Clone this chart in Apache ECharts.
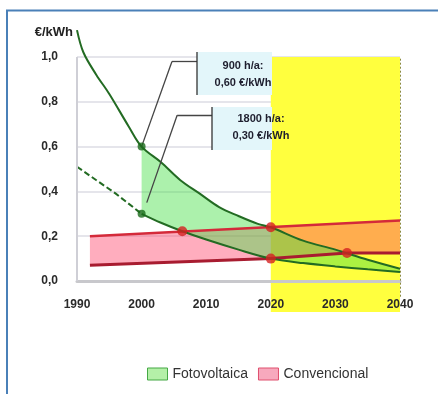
<!DOCTYPE html>
<html><head><meta charset="utf-8">
<script src="https://cdn.jsdelivr.net/npm/echarts@6/dist/echarts.min.js"></script>
<style>html,body{margin:0;padding:0;background:#fff}#c{width:438px;height:394px}</style>
</head><body><div id="c"></div>
<script>
// ---- data ----
const pv900Years = [1990, 1991, 1993, 1995, 1998, 2000, 2003, 2006, 2009, 2012, 2015, 2018, 2020, 2025, 2030, 2035, 2040];
const pv900 =      [1.12, 1.02, 0.92, 0.835, 0.69, 0.60, 0.53, 0.45, 0.39, 0.33, 0.29, 0.255, 0.24, 0.18, 0.14, 0.095, 0.055];
const pv1800Years = [1990, 1993, 1996, 2000, 2003, 2006.3, 2010, 2015, 2020, 2025, 2030, 2035, 2040];
const pv1800 =      [0.51, 0.45, 0.39, 0.30, 0.26, 0.222, 0.185, 0.14, 0.10, 0.08, 0.065, 0.052, 0.04];
const convHighYears = [1992, 2040];
const convHigh = [0.20, 0.27];
const convLowYears = [1992, 2020, 2031.8, 2040];
const convLow = [0.07, 0.10, 0.125, 0.125];
const pvMarkYears = [2000, 2000];
const pvMarks = [0.60, 0.30];
const crossYears = [2006.3, 2020, 2020, 2031.8];
const crossValues = [0.222, 0.24, 0.10, 0.125];
const xTicks = [1990, 2000, 2010, 2020, 2030, 2040];
const yTicks = [0, 0.2, 0.4, 0.6, 0.8, 1.0];
const horizonYears = [2020, 2040];
const seriesNames = ['Fotovoltaica', 'Convencional'];
const yUnit = '€/kWh';
const notes = ['900 h/a:\n0,60 €/kWh', '1800 h/a:\n0,30 €/kWh'];
// annotation leader anchors (data space)
const leaders = [
  [[2000, 0.60], [2004.7, 0.98], [2008.6, 0.98]],
  [[2000.8, 0.35], [2005.5, 0.74], [2011.1, 0.74]]
];

// ---- helpers ----
const pairs = (xs, ys) => xs.map((x, i) => [x, ys[i]]);
const pvTop = pairs(pv900Years, pv900).filter(p => p[0] >= 2000);
const pvBot = pairs(pv1800Years, pv1800).filter(p => p[0] >= 2000);
const pvPoly = pvTop.concat(pvBot.slice().reverse());
const convPoly = pairs(convHighYears, convHigh).concat(pairs(convLowYears, convLow).reverse());
const xMin = xTicks[0], xMax = xTicks[xTicks.length - 1];
const yMax = yTicks[yTicks.length - 1];

const FONT = 'Liberation Sans';
const chart = echarts.init(document.getElementById('c'), null, {renderer: 'canvas'});

function polySeries(name, poly, fill) {
  return {
    type: 'custom', name: name, coordinateSystem: 'cartesian2d', silent: true, z: 1,
    data: [[poly[0][0], poly[0][1]]],
    itemStyle: {color: fill},
    renderItem: (params, api) => ({
      type: 'polygon',
      shape: {points: poly.map(p => api.coord(p))},
      style: {fill: fill}
    })
  };
}

const leaderData = [];
leaders.forEach(l => {
  for (let i = 0; i < l.length - 1; i++) leaderData.push([{coord: l[i]}, {coord: l[i + 1]}]);
});
leaderData.push([{coord: [xMin, 0], lineStyle: {color: '#cfcfd6', width: 2}}, {coord: [xMin, yMax]}]);

const option = {
  animation: false,
  textStyle: {fontFamily: FONT},
  grid: [
    {left: 77, right: 38, top: 57, bottom: 113, containLabel: false},
    {left: 77, right: 38, top: 57, bottom: 82, containLabel: false}
  ],
  xAxis: [{
    type: 'value', min: xMin, max: xMax, interval: 10, z: 3,
    axisLine: {lineStyle: {color: '#c8c8cc', width: 3}},
    axisTick: {show: false},
    splitLine: {show: false},
    axisLabel: {margin: 18, fontSize: 12, fontWeight: 'bold', color: '#2a2a2a', formatter: v => String(v)}
  }, {
    type: 'value', gridIndex: 1, min: xMin, max: xMax, show: false
  }],
  yAxis: [{
    type: 'value', min: 0, max: yMax, interval: 0.2,
    name: yUnit, nameLocation: 'end', nameGap: 25,
    nameTextStyle: {align: 'right', verticalAlign: 'middle', fontSize: 13, fontWeight: 'bold', color: '#222', padding: [0, 4, 0, 0]},
    axisLine: {show: false}, axisTick: {show: false},
    splitLine: {show: true, lineStyle: {color: '#dcdce4', width: 1.5}},
    axisLabel: {margin: 19, fontSize: 12, fontWeight: 'bold', color: '#2a2a2a',
      formatter: v => v.toFixed(1).replace('.', ',')}
  }, {
    type: 'value', gridIndex: 1, min: 0, max: 1, show: false
  }],
  legend: {
    data: [
      {name: seriesNames[0], itemStyle: {color: '#b4f0a8', borderColor: '#45a845', borderWidth: 1}},
      {name: seriesNames[1], itemStyle: {color: '#f7a9bd', borderColor: '#e0506e', borderWidth: 1}}
    ],
    left: 142, top: 362, itemWidth: 20, itemHeight: 12, itemGap: 10, icon: 'rect', selectedMode: false,
    textStyle: {fontSize: 14, color: '#333', fontFamily: FONT}
  },
  graphic: [
    {type: 'polyline', z: 100, shape: {points: [[7, 394], [7, 10.5], [438, 10.5]]}, style: {stroke: '#4a80b8', lineWidth: 2, fill: null}},
    {type: 'rect', z: 50, shape: {x: 197, y: 52, width: 75, height: 43}, style: {fill: '#e3f6fa'}},
    {type: 'line', z: 51, shape: {x1: 197, y1: 52, x2: 197, y2: 95}, style: {stroke: '#333', lineWidth: 1.3}},
    {type: 'text', z: 52, x: 243, y: 74.5, style: {text: notes[0], font: 'bold 11px "Liberation Sans"', fill: '#1e1e2e', align: 'center', verticalAlign: 'middle', lineHeight: 17}},
    {type: 'rect', z: 50, shape: {x: 212, y: 107, width: 60, height: 43}, style: {fill: '#e3f6fa'}},
    {type: 'line', z: 51, shape: {x1: 212, y1: 107, x2: 212, y2: 150}, style: {stroke: '#333', lineWidth: 1.3}},
    {type: 'text', z: 52, x: 261, y: 127.5, style: {text: notes[1], font: 'bold 11px "Liberation Sans"', fill: '#1e1e2e', align: 'center', verticalAlign: 'middle', lineHeight: 17}}
  ],
  series: [
    {
      type: 'line', name: 'horizon', xAxisIndex: 1, yAxisIndex: 1, data: [], z: -1, silent: true,
      markArea: {silent: true, itemStyle: {color: '#ffff3e'},
        data: [[{xAxis: horizonYears[0], yAxis: 0}, {xAxis: horizonYears[1], yAxis: 1}]]},
      markLine: {silent: true, symbol: 'none', label: {show: false},
        lineStyle: {color: '#8a8a40', width: 1, type: [2, 2]},
        data: [[{coord: [horizonYears[1], 0.06]}, {coord: [horizonYears[1], 1]}]]}
    },
    polySeries(seriesNames[1], convPoly, 'rgba(255,60,100,0.42)'),
    polySeries(seriesNames[0], pvPoly, 'rgba(70,225,70,0.45)'),
    {type: 'line', name: 'conv-high', data: pairs(convHighYears, convHigh), symbol: 'none', z: 3,
      lineStyle: {color: '#d42a3a', width: 2.5}},
    {type: 'line', name: 'conv-low', data: pairs(convLowYears, convLow), symbol: 'none', z: 3,
      lineStyle: {color: '#a81c30', width: 3}},
    {type: 'line', name: 'pv900', data: pairs(pv900Years, pv900), symbol: 'none', smooth: 0.35, clip: false, z: 4,
      lineStyle: {color: '#236b23', width: 2}},
    {type: 'line', name: 'pv1800a', data: pairs(pv1800Years, pv1800).filter(p => p[0] <= 2000), symbol: 'none', z: 4,
      lineStyle: {color: '#236b23', width: 2, type: [6, 3]}},
    {type: 'line', name: 'pv1800b', data: pairs(pv1800Years, pv1800).filter(p => p[0] >= 2000), symbol: 'none', smooth: 0.3, z: 4,
      lineStyle: {color: '#236b23', width: 2}},
    {type: 'scatter', name: 'pvmarks', data: pairs(pvMarkYears, pvMarks), symbolSize: 8, z: 6,
      itemStyle: {color: '#1a6a1a'},
      markLine: {silent: true, symbol: 'none', label: {show: false}, lineStyle: {color: '#444', width: 1.3, type: 'solid'}, data: leaderData}},
    {type: 'scatter', name: 'cross', data: pairs(crossYears, crossValues), symbolSize: 10, z: 6,
      itemStyle: {color: '#d42020'}}
  ]
};
chart.setOption(option);
</script></body></html>
